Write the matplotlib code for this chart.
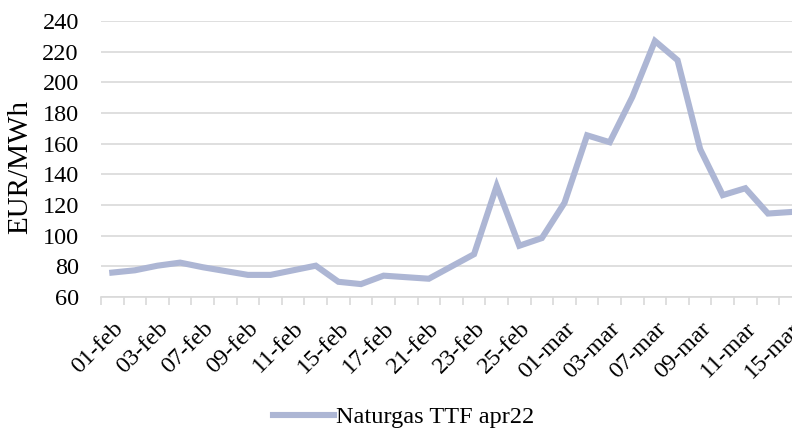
import matplotlib
matplotlib.use("Agg")
import matplotlib.pyplot as plt
import numpy as np

# Naturgas TTF apr22, EUR/MWh, business days 1 Feb - 15 Mar 2022
dates = ["01-feb", "02-feb", "03-feb", "04-feb", "07-feb", "08-feb", "09-feb",
         "10-feb", "11-feb", "14-feb", "15-feb", "16-feb", "17-feb", "18-feb",
         "21-feb", "22-feb", "23-feb", "24-feb", "25-feb", "28-feb",
         "01-mar", "02-mar", "03-mar", "04-mar", "07-mar", "08-mar", "09-mar",
         "10-mar", "11-mar", "14-mar", "15-mar"]
prices = [76, 77.5, 80.5, 82.5, 79.5, 77, 74.5, 74.5, 77.5, 80.5, 70, 68.5,
          74, 73, 72, 80, 88, 132.5, 93.5, 98.5, 121.5, 165.5, 161, 190.5,
          227, 214.5, 156.5, 126.5, 131, 114.5, 115.5]

line_color = "#adb6d4"
grid_color = "#d9d9d9"
font = "Liberation Serif"
fs = 17.5

fig = plt.figure(figsize=(7.92, 4.30), dpi=100)
ax = fig.add_axes([0.1275, 0.309, 0.885, 0.642])

x = np.arange(len(prices))
ax.plot(x, prices, color=line_color, linewidth=4.4, solid_joinstyle="miter",
        label="Naturgas TTF apr22", zorder=3)

ax.set_xlim(-0.5, len(prices) - 0.5)
ax.set_ylim(60, 240)
ax.set_yticks(np.arange(60, 241, 20))
ax.yaxis.grid(True, color=grid_color, linewidth=1.2)
ax.set_axisbelow(True)

# category labels every other day, ticks between categories
ax.set_xticks(x[::2])
ax.set_xticklabels(dates[::2], rotation=45, ha="right", va="top",
                   rotation_mode="anchor", fontsize=fs, family=font)
ax.set_xticks(np.arange(-0.5, len(prices)), minor=True)
ax.tick_params(axis="x", which="major", length=0, pad=15)
ax.tick_params(axis="x", which="minor", length=6, color=grid_color, width=1.2)
ax.tick_params(axis="y", length=0, pad=16, labelsize=fs)
for lbl in ax.get_yticklabels():
    lbl.set_family(font)

for s in ["top", "right", "left"]:
    ax.spines[s].set_visible(False)
ax.spines["bottom"].set_color(grid_color)
ax.spines["bottom"].set_linewidth(1.2)

ax.set_ylabel("EUR/MWh", fontsize=21, family=font)
ax.yaxis.set_label_coords(-0.097, 0.47)

fig.legend(loc="center", bbox_to_anchor=(0.51, 0.03), frameon=False,
           prop={"family": font, "size": fs}, handlelength=2.5,
           handletextpad=0.1)

fig.savefig("out.png", dpi=100)
